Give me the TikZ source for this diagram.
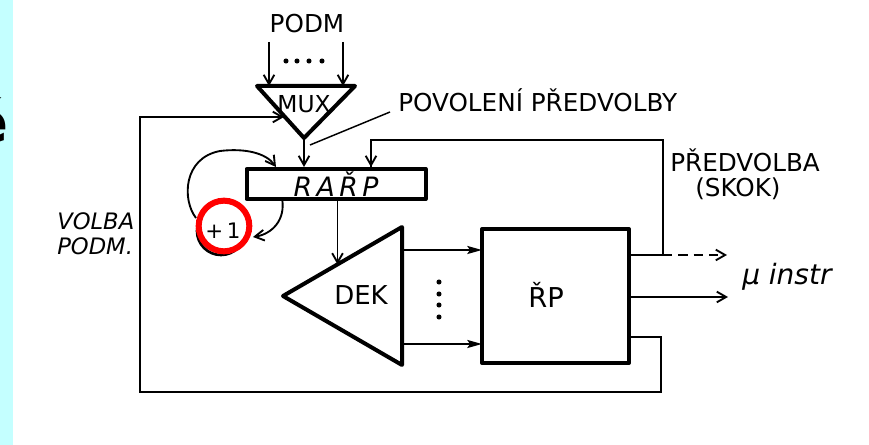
\documentclass[tikz,border=0pt]{standalone}
\usepackage{fontspec}
\setmainfont{DejaVu Sans}
\usetikzlibrary{arrows.meta,calc}
\definecolor{stripcyan}{RGB}{196,255,255}
\begin{document}
\begin{tikzpicture}[x=0.75pt,y=-0.75pt,
  wire/.style={line width=1.4pt},
  block/.style={line width=3pt,line join=round},
  arr/.style={-{Straight Barb[length=7pt,width=8pt,line width=1.4pt]}},
  farr/.style={-{Stealth[length=11pt,width=6pt,inset=2pt]}},
  lbl/.style={inner sep=0pt,font=\fontsize{18.5}{20}\selectfont},
  dotm/.style={circle,fill=black,inner sep=0pt,minimum size=3.8pt}]
\useasboundingbox (0,0) rectangle (869,445);
\fill[white] (0,0) rectangle (869,445);
\fill[stripcyan] (0,0) rectangle (13,445);
\node[inner sep=0pt,anchor=base east,font=\bfseries\fontsize{42}{42}\selectfont] (ttl) at (9,143) {é};

% MUX
\coordinate (m1) at (257,86);
\coordinate (m2) at (355,86);
\coordinate (m3) at (304,138);
\draw[block] (m1)--(m2)--(m3)--cycle;
\node[lbl,anchor=base,font=\fontsize{17.5}{18}\selectfont] (mux) at (304,113) {MUX};
\node[lbl,anchor=base] (podm) at (307,33) {PODM};
\coordinate (pa1) at (269,42); \coordinate (pb1) at (269,86);
\coordinate (pa2) at (343,42); \coordinate (pb2) at (343,86);
\draw[wire,arr] (pa1)--(pb1);
\draw[wire,arr] (pa2)--(pb2);
\foreach \x/\n in {286/a,297/b,309/c,322/d} \node[dotm] (hd\n) at (\x,61) {};

% POVOLENI
\coordinate (pv1) at (310,145);
\coordinate (pv2) at (390,112);
\draw[wire,line width=1.1pt] (pv1)--(pv2);
\node[lbl,anchor=base west] (povol) at (398,112) {POVOLENÍ PŘEDVOLBY};

% RARP
\node[draw,block,minimum width=134.25pt,minimum height=22.5pt,inner sep=0pt,
      font=\itshape\fontsize{20}{20}\selectfont] (rarp) at (336,184) {R\,A\,Ř\,P};
\draw[wire,arr] (m3) -- (rarp.north -| m3);

% +1 circles
\node[circle,draw,line width=2pt,minimum size=36pt,inner sep=0pt] (incb) at (221,231) {};
\coordinate (la1) at (196,218);
\coordinate (la2) at (220,151);
\coordinate (la3) at (276,167);
\draw[wire,arr] (la1) .. controls (182,200) and (183,158) .. (la2)
  .. controls (245,148) and (266,153) .. (la3);
\coordinate (lb1) at (282,198);
\coordinate (lb2) at (253,237);
\draw[wire,arr] (lb1) .. controls (286,220) and (272,234) .. (lb2);
\node[circle,draw=red,fill=white,line width=4.5pt,minimum size=38pt,inner sep=0pt] (inc) at (224,226) {};
\node[lbl,font=\fontsize{16}{16}\selectfont] (inct) at (223,231) {+\,1};

% DEK
\coordinate (d1) at (283,296);
\coordinate (d2) at (402,227);
\coordinate (d3) at (402,365);
\draw[block] (d1)--(d2)--(d3)--cycle;
\node[lbl,font=\fontsize{19.5}{20}\selectfont] (dek) at (361,295) {DEK};
\coordinate (rd) at ($(d1)!{54.5/119}!(d2)$);
\draw[wire,arr] (rarp.south -| rd) -- (rd);

% RP
\node[draw,block,minimum width=110.25pt,minimum height=100.5pt,inner sep=0pt] (rp) at (555.5,296) {};
\node[lbl,font=\fontsize{20.5}{21}\selectfont] (rpt) at (546,295) {ŘP};
\coordinate (o1) at (402,250); \coordinate (i1) at (482,250);
\coordinate (o2) at (402,344); \coordinate (i2) at (482,344);
\draw[wire,farr] (o1)--(i1);
\draw[wire,farr] (o2)--(i2);
\foreach \y/\n in {282/a,294/b,305/c,317/d} \node[dotm] (vd\n) at (439,\y) {};

% outputs
\coordinate (r1) at (629,255);
\coordinate (r1b) at (663,255);
\coordinate (r1e) at (727,255);
\coordinate (tp) at (371,140);
\draw[wire] (r1) -- (r1b) |- (tp) -- (tp |- rarp.north) coordinate (tpe);
\draw[wire,arr] (tp) -- (tpe);
\draw[wire,dash pattern=on 7pt off 4.5pt,arr] (r1b) -- (r1e);
\coordinate (r2) at (629,297);
\coordinate (r2e) at (728,297);
\draw[wire,arr] (r2) -- (r2e);
\node[lbl,anchor=base west,font=\itshape\fontsize{21}{22}\selectfont] (minstr) at (742,285) {μ instr};
\node[lbl,anchor=base west] (predv) at (670,172) {PŘEDVOLBA};
\node[lbl,anchor=base west] (skok) at (695,197) {(SKOK)};

% bottom loop
\coordinate (r3) at (629,337);
\coordinate (bl) at (140,392);
\coordinate (mx) at (284,117);
\draw[wire,arr] (r3) -- (661,337) |- (bl) |- (mx);
\node[lbl,anchor=base west,font=\itshape\fontsize{17}{18}\selectfont] (volba) at (57,230) {VOLBA};
\node[lbl,anchor=base west,font=\itshape\fontsize{17}{18}\selectfont] (vpodm) at (57,255) {PODM.};
\end{tikzpicture}
\end{document}
